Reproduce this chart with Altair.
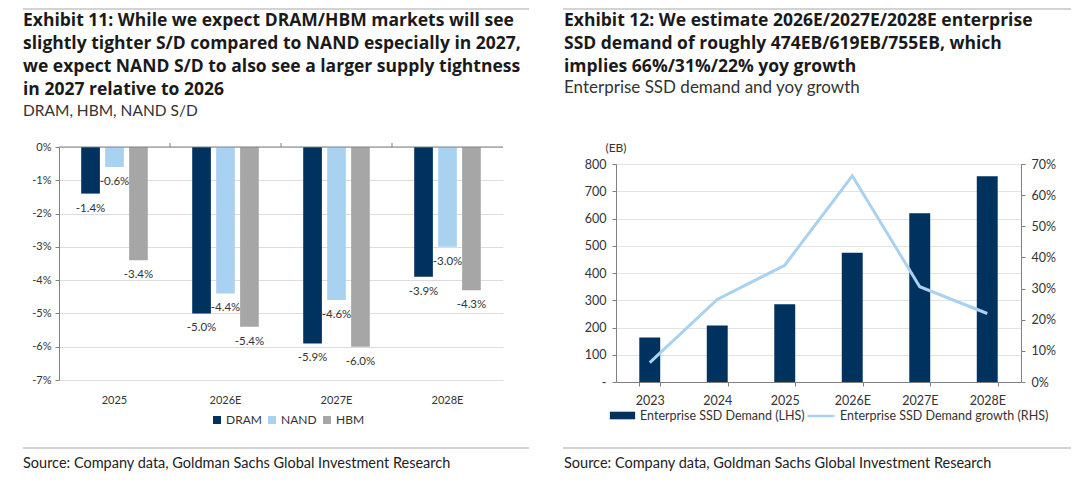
import pandas as pd
import altair as alt

# Exhibit 11: S/D balance by year
years_sd = ["2025", "2026E", "2027E", "2028E"]
series_sd = ["DRAM", "NAND", "HBM"]
dram = [-1.4, -5.0, -5.9, -3.9]
nand = [-0.6, -4.4, -4.6, -3.0]
hbm = [-3.4, -5.4, -6.0, -4.3]

# Exhibit 12: enterprise SSD demand (EB) and yoy growth (%)
years_ssd = ["2023", "2024", "2025", "2026E", "2027E", "2028E"]
ssd_demand = [163, 207, 285, 474, 619, 755]
ssd_growth = [6.2, 26.5, 37.5, 66.2, 30.6, 22.0]

FONT = "Lato"
TITLE_FONT = "Open Sans"
NAVY = "#00325f"
LIGHT = "#a9d2f1"
GREY = "#a6a6a6"
AXIS_GREY = "#808080"
RULE_GREY = "#c4c4c4"
SOURCE = "Source: Company data, Goldman Sachs Global Investment Research"

sd = pd.DataFrame({
    "year": years_sd * 3,
    "series": [s for s in series_sd for _ in years_sd],
    "value": dram + nand + hbm,
})
sd["label"] = sd["value"].map(lambda v: f"{v:.1f}%")

ssd = pd.DataFrame({"year": years_ssd, "demand": ssd_demand, "growth": ssd_growth})
ssd["s1"] = "Enterprise SSD Demand (LHS)"
ssd["s2"] = "Enterprise SSD Demand growth (RHS)"

deco = pd.DataFrame({"k": [0]})
year_ticks = pd.DataFrame({"year": years_sd[1:]})

# both panels share the same plot top; the right one starts its y range lower
H = 235

# ---------- left chart ----------
W1, H1 = 444, 233
STEP1 = W1 / 4

# same axis objects in every layer so Vega-Lite merges them cleanly
x1_axis = alt.Axis(orient="bottom", domain=False, ticks=False, labelAngle=0,
                   labelFontSize=11, labelPadding=12)
y1_axis = alt.Axis(values=[0, -1, -2, -3, -4, -5, -6, -7], labelExpr="datum.value + '%'",
                   labelOverlap=False, domainColor=AXIS_GREY, tickColor=AXIS_GREY,
                   tickSize=4, gridColor="#dcdcdc", labelFontSize=11, labelPadding=4)
x1 = alt.X("year:N", sort=years_sd, title=None, axis=x1_axis,
           scale=alt.Scale(paddingInner=0.4, paddingOuter=0.2))
y1 = alt.Y("value:Q", title=None, axis=y1_axis,
           scale=alt.Scale(domain=[-7, 0], nice=False, range=[H1, 0]))
off1 = alt.XOffset("series:N", sort=series_sd, scale=alt.Scale(paddingInner=0.22))

bars1 = alt.Chart(sd).mark_bar().encode(
    x=x1, xOffset=off1, y=y1,
    color=alt.Color("series:N", sort=series_sd,
                    scale=alt.Scale(domain=series_sd, range=[NAVY, LIGHT, GREY]),
                    legend=alt.Legend(orient="none", legendX=152, legendY=267,
                                      direction="horizontal", title=None,
                                      symbolType="square", symbolSize=64,
                                      labelFontSize=12, columnPadding=4, labelOffset=3)),
)

labels1 = alt.Chart(sd).mark_text(baseline="top", dy=9, fontSize=11.5, color="#333", font=FONT).encode(
    x=x1, xOffset=off1, y=y1, text="label:N",
)

# zero line (top of the plot) with small ticks between the year groups
zero1 = alt.Chart(deco).mark_rule(color=AXIS_GREY, strokeWidth=1.2).encode(
    x=alt.value(0), x2=alt.value(W1), y=alt.value(0))
ticks1 = alt.Chart(year_ticks).mark_rule(color=AXIS_GREY, strokeWidth=1, xOffset=-0.2 * STEP1).encode(
    x=alt.X("year:N", sort=years_sd, title=None, axis=x1_axis, bandPosition=0),
    y=alt.value(0), y2=alt.value(-4))

top1 = alt.Chart(deco).mark_rule(color=RULE_GREY, strokeWidth=1.5).encode(
    x=alt.value(-36), x2=alt.value(470), y=alt.value(-138))
bot1 = alt.Chart(deco).mark_rule(color=RULE_GREY, strokeWidth=1.5).encode(
    x=alt.value(-36), x2=alt.value(470), y=alt.value(301))
src1 = alt.Chart(deco).mark_text(align="left", baseline="middle", font=FONT, fontSize=14.5, color="#222").encode(
    x=alt.value(-36), y=alt.value(317), text=alt.value(SOURCE))

title1 = alt.TitleParams(
    text=["Exhibit 11: While we expect DRAM/HBM markets will see",
          "slightly tighter S/D compared to NAND especially in 2027,",
          "we expect NAND S/D to also see a larger supply tightness",
          "in 2027 relative to 2026"],
    subtitle=["DRAM, HBM, NAND S/D"],
    anchor="start", frame="group", dx=-36, offset=-111, subtitleFontSize=15.5,
)

left = alt.layer(bars1, labels1, zero1, ticks1, top1, bot1, src1).properties(
    width=W1, height=H, title=title1)

# ---------- right chart ----------
W2 = 405
R_TOP = 17
x_ssd = alt.X("year:N", sort=years_ssd, title=None,
              scale=alt.Scale(paddingInner=0.69, paddingOuter=0.345),
              axis=alt.Axis(orient="bottom", domainColor=AXIS_GREY, tickColor=AXIS_GREY,
                            tickBand="extent", tickSize=4, labelAngle=0,
                            labelFontSize=12.5, labelPadding=8))

bars2 = alt.Chart(ssd).mark_bar().encode(
    x=x_ssd,
    y=alt.Y("demand:Q", scale=alt.Scale(domain=[0, 800], nice=False, range=[H, R_TOP]), title=None,
            axis=alt.Axis(values=list(range(0, 801, 100)),
                          labelExpr="datum.value == 0 ? '-' : datum.label", labelOverlap=False,
                          domainColor=AXIS_GREY, tickColor=AXIS_GREY, tickSize=4,
                          gridColor="#e3e3e3", labelFontSize=12.5, labelPadding=6)),
    fill=alt.Fill("s1:N", scale=alt.Scale(range=[NAVY]),
                  legend=alt.Legend(orient="none", legendX=-7, legendY=255, title=None,
                                    symbolType="M-1,-0.3H1V0.3H-1Z", symbolSize=640,
                                    labelFontSize=12.5, labelLimit=0)),
)

line2 = alt.Chart(ssd).mark_line(strokeWidth=3).encode(
    x=x_ssd,
    y=alt.Y("growth:Q", scale=alt.Scale(domain=[0, 70], nice=False, range=[H, R_TOP]), title=None,
            axis=alt.Axis(orient="right", values=list(range(0, 71, 10)),
                          labelExpr="datum.value + '%'", grid=False, labelOverlap=False,
                          domainColor=AXIS_GREY, tickColor=AXIS_GREY, tickSize=4,
                          labelFontSize=12.5, labelPadding=6)),
    stroke=alt.Stroke("s2:N", scale=alt.Scale(range=[LIGHT]),
                      legend=alt.Legend(orient="none", legendX=190, legendY=254, title=None,
                                        symbolType="stroke", symbolSize=729,
                                        symbolStrokeWidth=2.5, labelFontSize=12.5, labelLimit=0)),
)

eb2 = alt.Chart(deco).mark_text(align="center", baseline="middle", font=FONT, fontSize=12, color="#333").encode(
    x=alt.value(0), y=alt.value(1), text=alt.value("(EB)"))
top2 = alt.Chart(deco).mark_rule(color=RULE_GREY, strokeWidth=1.5).encode(
    x=alt.value(-53), x2=alt.value(455), y=alt.value(-138))
bot2 = alt.Chart(deco).mark_rule(color=RULE_GREY, strokeWidth=1.5).encode(
    x=alt.value(-53), x2=alt.value(455), y=alt.value(301))
src2 = alt.Chart(deco).mark_text(align="left", baseline="middle", font=FONT, fontSize=14.5, color="#222").encode(
    x=alt.value(-52), y=alt.value(317), text=alt.value(SOURCE))

title2 = alt.TitleParams(
    text=["Exhibit 12: We estimate 2026E/2027E/2028E enterprise",
          "SSD demand of roughly 474EB/619EB/755EB, which",
          "implies 66%/31%/22% yoy growth"],
    subtitle=["Enterprise SSD demand and yoy growth"],
    anchor="start", frame="group", dx=-52, offset=-88, subtitleFontSize=17,
)

right = alt.layer(bars2, line2, eb2, top2, bot2, src2).resolve_scale(y="independent").properties(
    width=W2, height=H, title=title2)

chart = alt.hconcat(left, right, spacing=32).resolve_legend(
    color="independent", fill="independent", stroke="independent"
).properties(
    padding={"left": 14, "top": 0, "right": 0, "bottom": 0}
).configure_view(stroke=None).configure_axis(
    labelFont=FONT, labelColor="#333"
).configure_legend(
    labelFont=FONT, labelColor="#333"
).configure_title(
    font=TITLE_FONT, fontSize=17.5, fontWeight="bold", color="#1a1a1a", lineHeight=23,
    subtitleFont=FONT, subtitleColor="#333", subtitleLineHeight=20, subtitlePadding=5
)

chart.save("out.html", embed_options={"renderer": "svg", "actions": False})
